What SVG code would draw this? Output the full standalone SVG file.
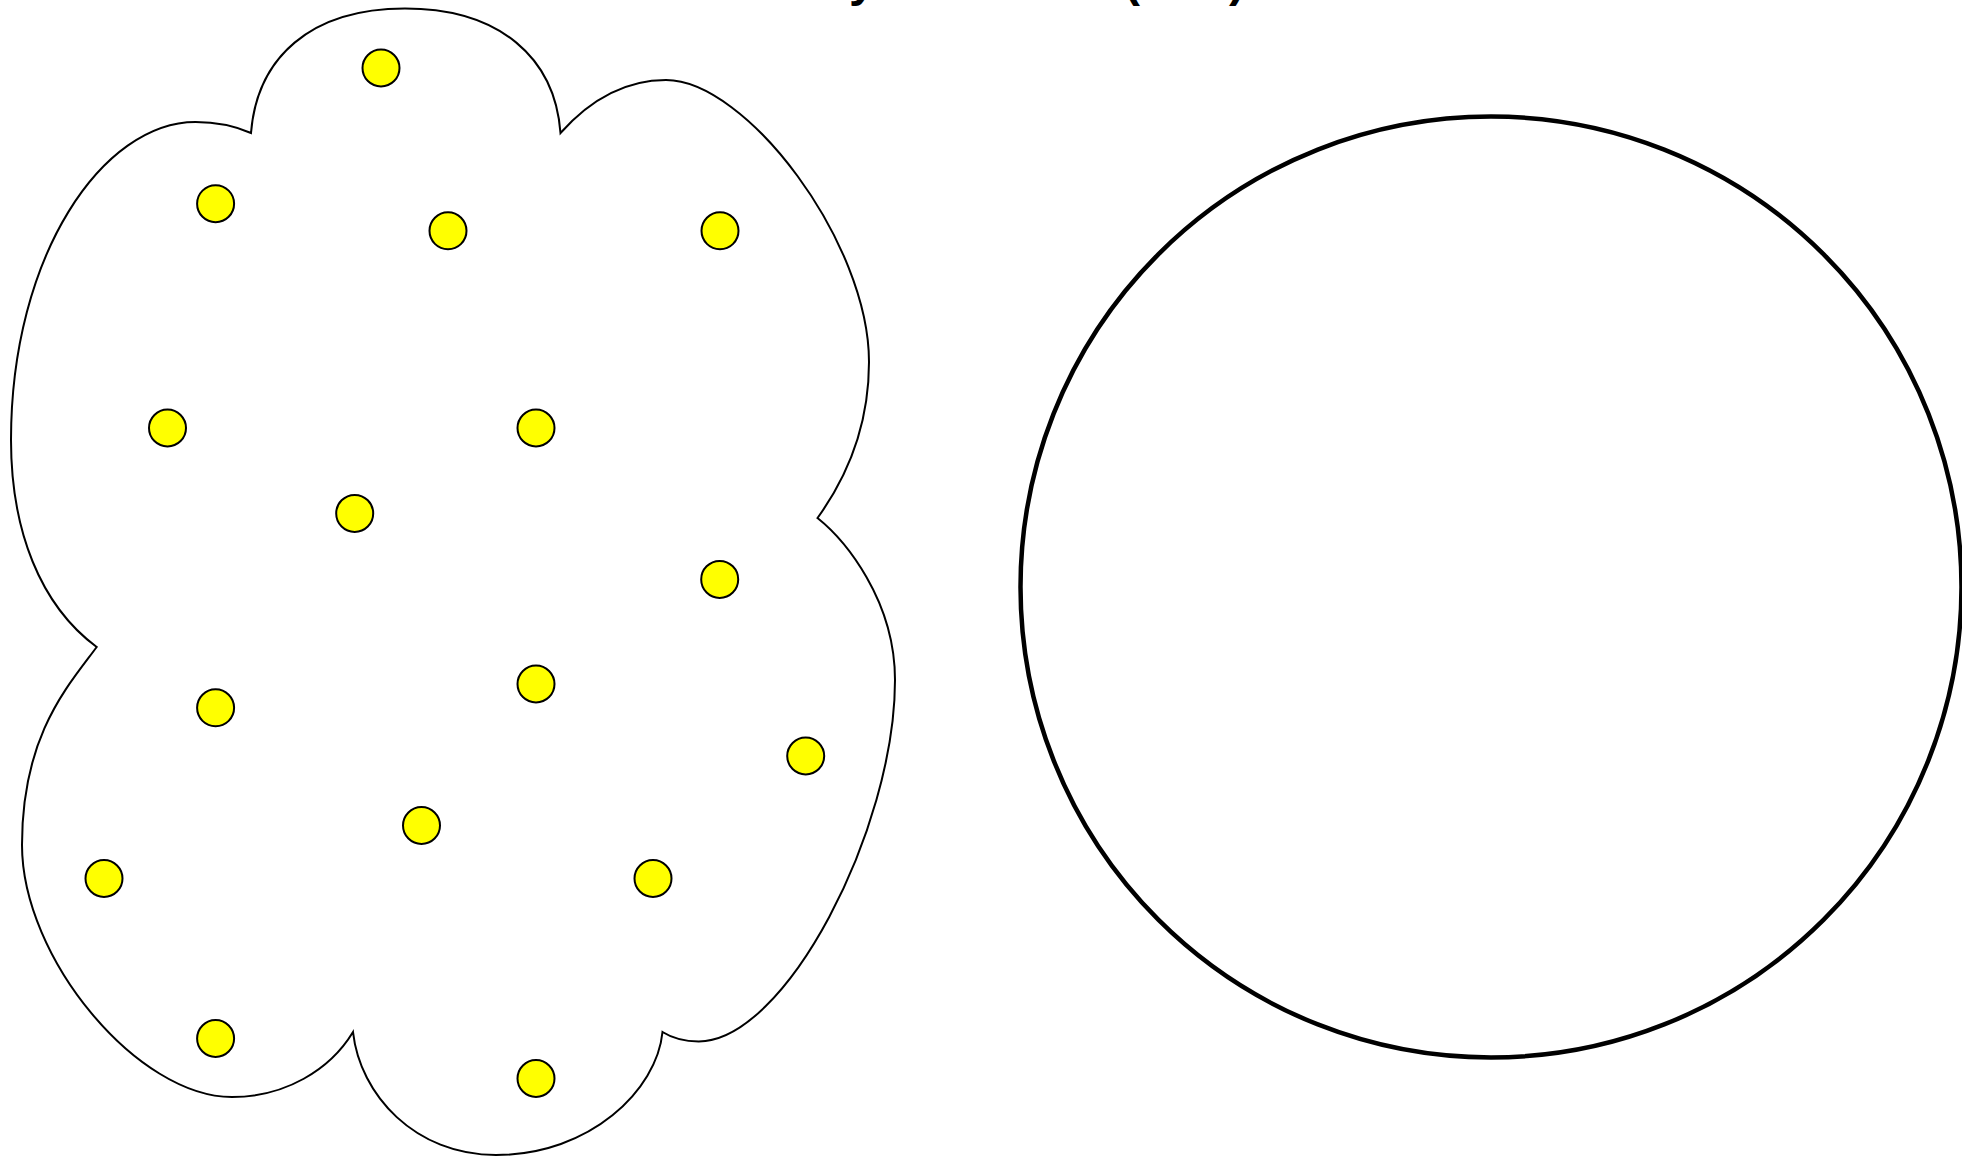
<svg xmlns="http://www.w3.org/2000/svg" width="1962" height="1156" viewBox="0 0 1962 1156">
  <style>
    .title { font-family: "Liberation Sans", Arial, sans-serif; font-size: 48px; font-weight: bold; fill: #000; }
    .cloud { fill: #fff; stroke: #000; stroke-width: 2; stroke-linejoin: miter; }
    .dot { fill: #ffff00; stroke: #000; stroke-width: 2; }
    .set { fill: #fff; stroke: #000; stroke-width: 4.5; }
  </style>
  <rect x="0" y="0" width="1962" height="1156" fill="#fff"/>
  <g id="title">
    <text class="title" y="-4"><tspan x="849">y</tspan><tspan x="1124">(</tspan><tspan x="1229">)</tspan></text>
  </g>
  <g id="cloud">
    <path class="cloud" d="M251,133 C257,58 310,8.5 405,8.5 C500,8.5 555,58 560.5,133 C590,100 625,80 666,80 C746,80 869,242 869,362 C869,430 845,480 817.5,518 C845,540 895,600 895,680 C895,830 785,1041.4 698.75,1041.4 C685,1041.4 672,1038 662.5,1032 C657,1090 590,1155 496,1155 C415,1155 360,1095 353,1032 C330,1070 285,1097 232,1097 C137.5,1097 22,958 22,845 C22,735 68,686 96.7,647 C40,605 11,530 11,440 C11,255 103,122 195.6,122 C215,122 235,126 251,133 Z"/>
  </g>
  <g id="elements">
    <circle id="e1" class="dot" cx="381" cy="68" r="18.5"/>
    <circle id="e2" class="dot" cx="215.6" cy="203.7" r="18.5"/>
    <circle id="e3" class="dot" cx="448" cy="230.8" r="18.5"/>
    <circle id="e4" class="dot" cx="720" cy="230.8" r="18.5"/>
    <circle id="e5" class="dot" cx="167.5" cy="428" r="18.5"/>
    <circle id="e6" class="dot" cx="536" cy="428" r="18.5"/>
    <circle id="e7" class="dot" cx="354.7" cy="513.4" r="18.5"/>
    <circle id="e8" class="dot" cx="719.7" cy="579.4" r="18.5"/>
    <circle id="e9" class="dot" cx="536" cy="684" r="18.5"/>
    <circle id="e10" class="dot" cx="215.6" cy="707.8" r="18.5"/>
    <circle id="e11" class="dot" cx="805.7" cy="756" r="18.5"/>
    <circle id="e12" class="dot" cx="421.5" cy="825.5" r="18.5"/>
    <circle id="e13" class="dot" cx="104" cy="878.5" r="18.5"/>
    <circle id="e14" class="dot" cx="653" cy="878.5" r="18.5"/>
    <circle id="e15" class="dot" cx="215.6" cy="1038.5" r="18.5"/>
    <circle id="e16" class="dot" cx="536" cy="1078.5" r="18.5"/>
  </g>
  <g id="target-set">
    <circle class="set" cx="1491" cy="587" r="470.5"/>
  </g>
  <g id="connectors"></g>
</svg>
